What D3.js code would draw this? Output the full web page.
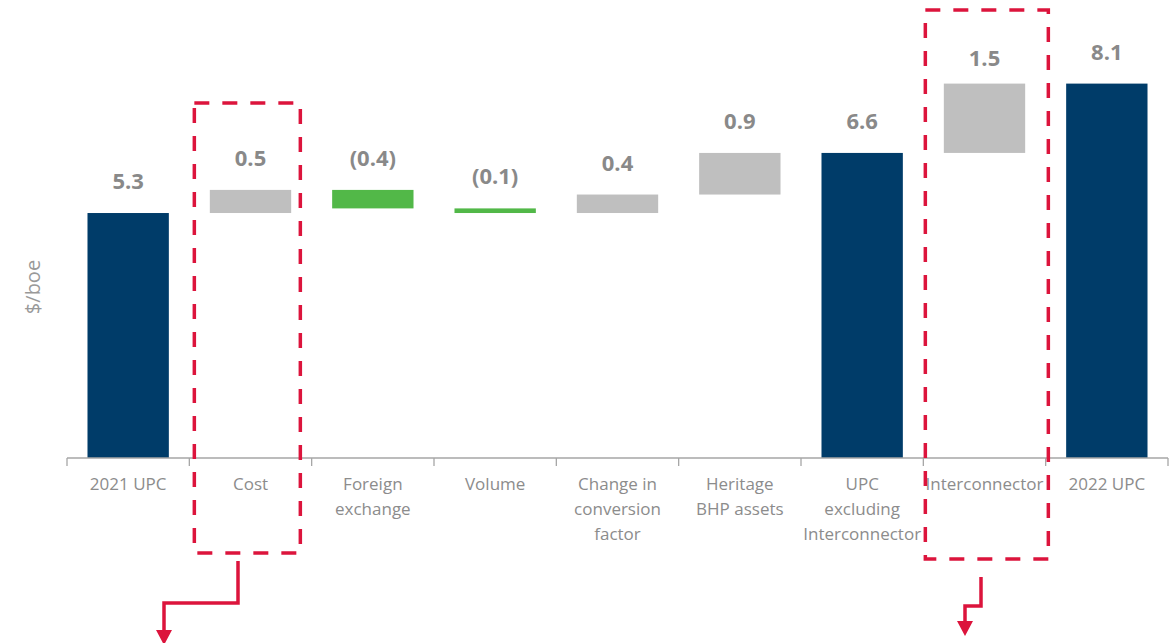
<!DOCTYPE html>
<meta charset="utf-8">
<style>
	body { margin: 0; background: #fff; }
	svg { display: block; font-family: "Open Sans", "Noto Sans", sans-serif; }
	.axis path, .axis line { stroke: #a6a6a6; stroke-width: 1.3px; }
	.axis text { fill: #8c8c8c; font-size: 17px; }
	.val { fill: #898989; font-size: 22px; font-weight: bold; text-anchor: middle; }
</style>
<svg width="1175" height="643"></svg>
<script src="https://cdn.jsdelivr.net/npm/d3@7"></script>
<script>
	// data
	var categories = ['2021 UPC', 'Cost', 'Foreign exchange', 'Volume', 'Change in conversion factor',
		'Heritage BHP assets', 'UPC excluding Interconnector', 'Interconnector', '2022 UPC']
	var values = [5.3, 0.5, -0.4, -0.1, 0.4, 0.9, 6.6, 1.5, 8.1]
	var kinds = ['total', 'delta', 'delta', 'delta', 'delta', 'delta', 'total', 'delta', 'total']
	var valueLabels = ['5.3', '0.5', '(0.4)', '(0.1)', '0.4', '0.9', '6.6', '1.5', '8.1']
	// label lines for the x axis
	var tickLines = [['2021 UPC'], ['Cost'], ['Foreign', 'exchange'], ['Volume'], ['Change in', 'conversion', 'factor'],
		['Heritage', 'BHP assets'], ['UPC', 'excluding', 'Interconnector'], ['Interconnector'], ['2022 UPC']]

	var svg = d3.select('svg'),
		margin = { left: 67, right: 7, top: 42, bottom: 185 },
		width = +svg.attr('width') - margin.left - margin.right,
		height = +svg.attr('height') - margin.top - margin.bottom

	var g = svg.append('g').attr('transform', 'translate(' + margin.left + ',' + margin.top + ')')

	var x = d3.scaleBand().domain(categories).range([0, width]).paddingInner(0.335).paddingOuter(0.1675)
	var y = d3.scaleLinear().domain([0, 9]).range([height, 0])

	// running totals for the waterfall
	var run = 0
	var bars = categories.map(function (c, i) {
		var v = values[i], y0, y1
		if (kinds[i] === 'total') { y0 = 0; y1 = v; run = v }
		else { y0 = run; y1 = run + v; run = y1 }
		return { name: c, y0: y0, y1: y1, v: v, kind: kinds[i], label: valueLabels[i] }
	})

	function color(d) {
		if (d.kind === 'total') return '#003c69'
		return d.v < 0 ? '#52b848' : '#bfbfbf'
	}

	g.selectAll('.bar').data(bars).enter().append('rect')
		.attr('class', 'bar')
		.attr('x', function (d) { return x(d.name) })
		.attr('width', x.bandwidth())
		.attr('y', function (d) { return y(Math.max(d.y0, d.y1)) })
		.attr('height', function (d) { return Math.abs(y(d.y0) - y(d.y1)) })
		.attr('fill', color)

	g.selectAll('.val').data(bars).enter().append('text')
		.attr('class', 'val')
		.attr('x', function (d) { return x(d.name) + x.bandwidth() / 2 })
		.attr('y', function (d) { return y(Math.max(d.y0, d.y1)) - (d.name === 'Interconnector' ? 18 : 24) })
		.text(function (d) { return d.label })

	// x axis with tick marks on band edges
	var xAxis = g.append('g')
		.attr('class', 'axis')
		.attr('transform', 'translate(0,' + height + ')')
	xAxis.append('line').attr('x1', 0).attr('x2', width).attr('y1', 0).attr('y2', 0)
	var step = x.step()
	xAxis.selectAll('.tk').data(d3.range(categories.length + 1)).enter().append('line')
		.attr('class', 'tk')
		.attr('x1', function (i) { return i * step }).attr('x2', function (i) { return i * step })
		.attr('y1', 0).attr('y2', 8)
	xAxis.selectAll('.lbl').data(categories).enter().append('text')
		.attr('class', 'lbl')
		.attr('text-anchor', 'middle')
		.attr('transform', function (d) { return 'translate(' + (x(d) + x.bandwidth() / 2) + ',0)' })
		.selectAll('tspan').data(function (d, i) { return tickLines[i] }).enter().append('tspan')
		.attr('x', 0)
		.attr('y', function (d, j) { return 32 + j * 25 })
		.text(function (d) { return d })

	// y title
	svg.append('text')
		.attr('transform', 'translate(40,287) rotate(-90)')
		.attr('text-anchor', 'middle')
		.attr('fill', '#999999')
		.style('font-size', '20px')
		.text('$/boe')

	// dashed highlight boxes + arrows
	var red = '#dc143c'
	var boxes = [
		{ name: 'Cost', dx: 5, w: 106, top: 103, bottom: 553, arrow: [[238, 561], [238, 603], [164, 603], [164, 630]] },
		{ name: 'Interconnector', dx: 2, w: 123, top: 10, bottom: 559, arrow: [[981, 577], [981, 606], [965, 606], [965, 621]] }
	]
	boxes.forEach(function (b) {
		var bx = margin.left + x(b.name) - x.step() * x.paddingInner() / 2 + b.dx
		svg.append('rect')
			.attr('x', bx).attr('y', b.top)
			.attr('width', b.w).attr('height', b.bottom - b.top)
			.attr('fill', 'none')
			.attr('stroke', red)
			.attr('stroke-width', 3.5)
			.attr('stroke-dasharray', '15,13')
		svg.append('path')
			.attr('d', d3.line()(b.arrow))
			.attr('fill', 'none')
			.attr('stroke', red)
			.attr('stroke-width', 3.5)
		var tip = b.arrow[b.arrow.length - 1]
		svg.append('path')
			.attr('d', 'M' + (tip[0] - 8) + ',' + tip[1] + 'L' + (tip[0] + 8) + ',' + tip[1] + 'L' + tip[0] + ',' + (tip[1] + 15) + 'Z')
			.attr('fill', red)
	})
</script>
